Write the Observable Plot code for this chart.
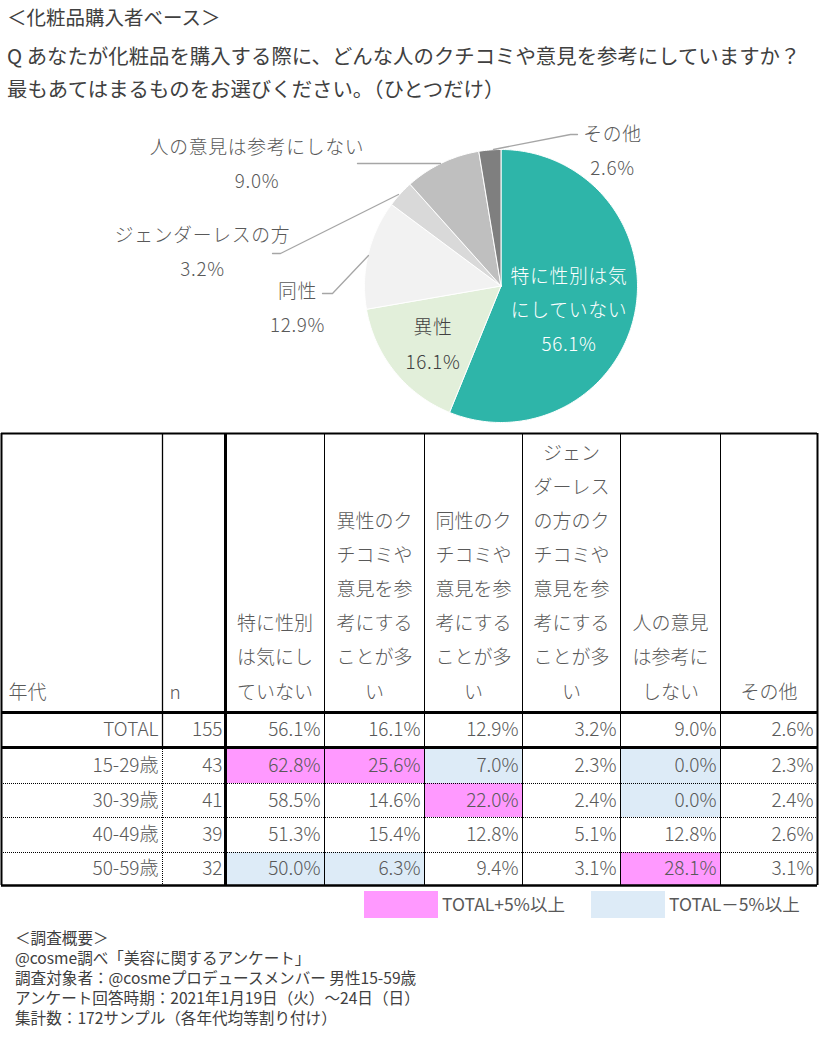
<!DOCTYPE html>
<html><head><meta charset="utf-8">
<script src="https://cdn.jsdelivr.net/npm/d3@7"></script>
<script src="https://cdn.jsdelivr.net/npm/@observablehq/plot@0.6"></script>
<style>
body{margin:0;background:#fff;font-family:"Noto Sans CJK JP","Noto Sans",sans-serif;}
#page{position:relative;width:819px;height:1038px;overflow:hidden;background:#fff;}
.abs{position:absolute;white-space:nowrap;}
</style></head><body><div id="page"></div>
<script>
// ---------- DATA ----------
const titleLines = ["＜化粧品購入者ベース＞",
  "Q あなたが化粧品を購入する際に、どんな人のクチコミや意見を参考にしていますか？",
  "最もあてはまるものをお選びください。（ひとつだけ）"];

const sliceKeys = ["特に性別は気にしていない","異性","同性","ジェンダーレスの方","人の意見は参考にしない","その他"];
const sliceNames = ["特に性別は気\nにしていない","異性","同性","ジェンダーレスの方","人の意見は参考にしない","その他"];
const sliceValues = [56.1,16.1,12.9,3.2,9.0,2.6];
const sliceColors = ["#2EB5A9","#E2EFDA","#F2F2F2","#D9D9D9","#BFBFBF","#7F7F7F"];

const headerLines = [
  ["年代"],["n"],
  ["特に性別","は気にし","ていない"],
  ["異性のク","チコミや","意見を参","考にする","ことが多","い"],
  ["同性のク","チコミや","意見を参","考にする","ことが多","い"],
  ["ジェン","ダーレス","の方のク","チコミや","意見を参","考にする","ことが多","い"],
  ["人の意見","は参考に","しない"],
  ["その他"]];
const rowLabels = ["TOTAL","15-29歳","30-39歳","40-49歳","50-59歳"];
const rowN = [155,43,41,39,32];
const colTokuni = [56.1,62.8,58.5,51.3,50.0];
const colIsei = [16.1,25.6,14.6,15.4,6.3];
const colDousei = [12.9,7.0,22.0,12.8,9.4];
const colGenderless = [3.2,2.3,2.4,5.1,3.1];
const colNoRef = [9.0,0.0,0.0,12.8,28.1];
const colOther = [2.6,2.3,2.4,2.6,3.1];
const valueColumns = [colTokuni,colIsei,colDousei,colGenderless,colNoRef,colOther];

const legendLabels = ["TOTAL+5%以上","TOTAL－5%以上"];
const legendColors = ["#FF99FF","#DDEBF7"];

const footnoteLines = ["＜調査概要＞",
  "@cosme調べ「美容に関するアンケート」",
  "調査対象者：@cosmeプロデュースメンバー 男性15-59歳",
  "アンケート回答時期：2021年1月19日（火）～24日（日）",
  "集計数：172サンプル（各年代均等割り付け）"];

// ---------- LAYOUT ----------
const FONT = "'Noto Sans CJK JP','Noto Sans',sans-serif";
const page = document.getElementById("page");
function addText(txt, left, cy, size, color, boxH, extra) {
  const d = document.createElement("div");
  d.className = "abs";
  d.textContent = txt;
  const h = boxH || Math.round(size * 1.4);
  Object.assign(d.style, {left: left + "px", top: (cy - h / 2) + "px", height: h + "px",
    lineHeight: h + "px", fontSize: size + "px", color: color}, extra || {});
  page.appendChild(d);
  return d;
}
addText(titleLines[0], 7, 17, 19.5, "#404040", 30);
addText(titleLines[1], 7, 55, 20.4, "#404040", 32);
addText(titleLines[2], 7, 88, 20.4, "#404040", 32);

// ---------- PIE ----------
const R = 136.5, CX = 500.5, CYp = 175.5, PIE_TOP = 110;
const pieData = sliceKeys.map((k, i) => ({key: k, value: sliceValues[i]}));
const arcs = d3.pie().sort(null).value(d => d.value)(pieData);
const polyPts = [];
arcs.forEach(a => {
  const n = Math.max(4, Math.ceil((a.endAngle - a.startAngle) / (Math.PI / 180)));
  polyPts.push({key: a.data.key, x: 0, y: 0});
  for (let j = 0; j <= n; j++) {
    const t = a.startAngle + (a.endAngle - a.startAngle) * j / n;
    polyPts.push({key: a.data.key, x: Math.sin(t), y: Math.cos(t)});
  }
  polyPts.push({key: a.data.key, x: 0, y: 0});
});
// label placement (pixel offsets from pie centre) and leader lines
const labelPlace = [
  {dx: 68, dy: 20, color: "#FFFFFF"},
  {dx: -68, dy: 54.5, color: "#404040"},
  {dx: -203.5, dy: 18, color: "#595959"},
  {dx: -298.5, dy: -38, color: "#595959"},
  {dx: -244, dy: -126, color: "#595959"},
  {dx: 111.5, dy: -139, color: "#595959"}];
const leaderPx = {
  "その他": [[493,149],[570,134],[577,134]],
  "人の意見は参考にしない": [[440,163],[357,163]],
  "ジェンダーレスの方": [[398,194],[280,253],[272,253]],
  "同性": [[368,255],[332,293],[322,293]]};
const leaderPts = [];
for (const [k, pts] of Object.entries(leaderPx))
  pts.forEach(([px, py]) => leaderPts.push({key: k, x: (px - CX) / R, y: (CYp + PIE_TOP - py) / R}));
const pieLabels = sliceKeys.map((k, i) => ({
  key: k, text: sliceNames[i] + "\n" + sliceValues[i].toFixed(1) + "%",
  x: labelPlace[i].dx / R, y: -labelPlace[i].dy / R, color: labelPlace[i].color}));

const pie = Plot.plot({
  width: 819, height: 320, margin: 0,
  style: {fontFamily: FONT, background: "transparent", overflow: "visible", letterSpacing: "0.7px"},
  x: {domain: [-1, 1], range: [CX - R, CX + R], axis: null},
  y: {domain: [-1, 1], range: [CYp + R, CYp - R], axis: null},
  color: {domain: sliceKeys, range: sliceColors},
  marks: [
    Plot.line(polyPts, {x: "x", y: "y", z: "key", fill: "key", stroke: "white", strokeWidth: 1, curve: "linear"}),
    Plot.line(leaderPts, {x: "x", y: "y", z: "key", stroke: "#A6A6A6", strokeWidth: 1.3, curve: "linear"}),
    Plot.text(pieLabels, {x: "x", y: "y", text: "text", fill: d => d.color, fontSize: 18.8,
      lineHeight: 1.83, textAnchor: "middle", fontWeight: 300})
  ]
});
const pieWrap = document.createElement("div");
pieWrap.className = "abs"; pieWrap.style.left = "0px"; pieWrap.style.top = PIE_TOP + "px";
pieWrap.appendChild(pie); page.appendChild(pieWrap);

// ---------- TABLE ----------
const TABLE_TOP = 430;
const colWidths = [161,63,99,100,98,98,100,97];
const rowHeights = [279,35,36,34,35,33];
const colEdges = Array.from(d3.cumsum([0, ...colWidths]));
const rowEdges = Array.from(d3.cumsum([0, ...rowHeights]));
const TW = colEdges[colEdges.length - 1], TH = rowEdges[rowEdges.length - 1];

const txtStart = [], txtMiddle = [], txtEnd = [];
headerLines.forEach((lines, c) => {
  const n = lines.length;
  lines.forEach((s, k) => {
    const y = rowEdges[1] - 20 - (n - 1 - k) * 34.1;
    if (c < 2) txtStart.push({x: colEdges[c] + 7, y, text: s});
    else txtMiddle.push({x: (colEdges[c] + colEdges[c + 1]) / 2, y, text: s});
  });
});
const cellFills = [];
rowLabels.forEach((lab, r) => {
  const y = (rowEdges[r + 1] + rowEdges[r + 2]) / 2;
  txtEnd.push({x: colEdges[1] - 4, y, text: lab});
  txtEnd.push({x: colEdges[2] - 3, y, text: String(rowN[r])});
  valueColumns.forEach((col, j) => {
    const c = j + 2;
    txtEnd.push({x: colEdges[c + 1] - 4, y, text: col[r].toFixed(1) + "%"});
    if (r > 0) {
      const diff = col[r] - col[0];
      const kind = diff >= 5 ? legendLabels[0] : diff <= -5 ? legendLabels[1] : null;
      if (kind) cellFills.push({x1: colEdges[c], x2: colEdges[c + 1], y1: rowEdges[r + 1], y2: rowEdges[r + 2], kind});
    }
  });
});
const hSolid = [
  {y: 0, w: 2}, {y: rowEdges[1], w: 3}, {y: rowEdges[2], w: 3}, {y: TH, w: 2.5}];
const hDotted = [rowEdges[3], rowEdges[4], rowEdges[5]].map(y => ({y}));
const vSolid = [];
colEdges.forEach((x, i) => {
  if (i === 1) vSolid.push({x, y1: 0, y2: rowEdges[2], w: 1.3});
  else vSolid.push({x, y1: 0, y2: TH, w: i === 0 || i === colEdges.length - 1 ? 2 : i === 2 ? 3 : 1});
});
const vDotted = [{x: colEdges[1], y1: rowEdges[2], y2: TH}];

const table = Plot.plot({
  width: 819, height: 460, margin: 0,
  style: {fontFamily: FONT, background: "transparent", overflow: "visible"},
  x: {domain: [0, TW], range: [1, 817], axis: null},
  y: {domain: [0, TH], range: [3, 3 + TH], axis: null},
  color: {domain: legendLabels, range: legendColors},
  marks: [
    Plot.rect(cellFills, {x1: "x1", x2: "x2", y1: "y1", y2: "y2", fill: "kind"}),
    Plot.ruleY(hDotted, {y: "y", x1: 0, x2: TW, stroke: "#000", strokeWidth: 1, strokeDasharray: "1,1"}),
    Plot.ruleX(vDotted, {x: "x", y1: "y1", y2: "y2", stroke: "#000", strokeWidth: 1, strokeDasharray: "1,1"}),
    Plot.ruleX(vSolid, {x: "x", y1: "y1", y2: "y2", stroke: "#000", strokeWidth: "w"}),
    Plot.ruleY(hSolid, {y: "y", x1: 0, x2: TW, stroke: "#000", strokeWidth: "w"}),
    Plot.text(txtStart, {x: "x", y: "y", text: "text", textAnchor: "start", fontSize: 19, fill: "#595959", fontWeight: 300}),
    Plot.text(txtMiddle, {x: "x", y: "y", text: "text", textAnchor: "middle", fontSize: 19, fill: "#595959", fontWeight: 300}),
    Plot.text(txtEnd, {x: "x", y: "y", text: "text", textAnchor: "end", fontSize: 19, fill: "#595959", fontWeight: 300})
  ]
});
const tableWrap = document.createElement("div");
tableWrap.className = "abs"; tableWrap.style.left = "0px"; tableWrap.style.top = TABLE_TOP + "px";
tableWrap.appendChild(table); page.appendChild(tableWrap);

// ---------- LEGEND ----------
[[364, 442], [591, 669]].forEach(([bx, tx], i) => {
  const b = document.createElement("div");
  b.className = "abs";
  Object.assign(b.style, {left: bx + "px", top: "891px", width: "74px", height: "27px", background: legendColors[i]});
  page.appendChild(b);
  addText(legendLabels[i], tx, 904, 17.5, "#595959", 26);
});

// ---------- FOOTNOTES ----------
footnoteLines.forEach((s, i) => addText(s, 15, 937 + i * 20, 15.6, "#404040", 20));
</script></body></html>
